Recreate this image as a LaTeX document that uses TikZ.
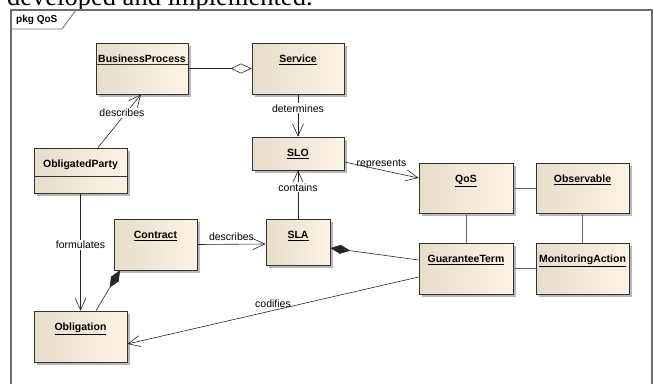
\documentclass[tikz,border=0pt]{standalone}
\usepackage{fontspec}
\setmainfont{Liberation Serif}
\newfontfamily\umlfont{Liberation Sans}
\usetikzlibrary{arrows.meta,shadows}

\definecolor{boxleft}{RGB}{231,221,203}
\definecolor{boxright}{RGB}{252,243,229}
\definecolor{frameline}{RGB}{110,110,110}

\tikzset{
  umlbox/.style={draw=black!80, line width=0.8pt, left color=boxleft, right color=boxright,
    drop shadow={shadow xshift=3pt, shadow yshift=-3pt, fill=black!28, opacity=1},
    minimum width=93pt, minimum height=51pt, inner sep=0pt},
  boxtitle/.style={font=\umlfont\fontsize{10.5}{12}\selectfont\bfseries, inner sep=0pt, anchor=base},
  lbl/.style={font=\umlfont\fontsize{10.5}{12}\selectfont, fill=white, inner sep=1pt},
  assoc/.style={draw=black!85, line width=0.6pt},
  link/.style={draw=black!60, line width=0.6pt},
  nav/.style={assoc, -{Straight Barb[length=12pt,width=11pt]}},
  comp/.style={assoc, {Diamond[length=20pt,width=9pt]}-},
  aggr/.style={assoc, -{Diamond[open,length=21pt,width=10pt]}},
}

\begin{document}
\begin{tikzpicture}[x=1pt, y=-1pt]
  \useasboundingbox (0,0) rectangle (653,383);
  \clip (0,0) rectangle (653,383);

  % line of text cut off above the frame
  \node[anchor=base west, inner sep=0pt, font=\fontsize{26.5}{30}\selectfont] (cap) at (7,5) {developed and implemented.};

  % package frame
  \draw[frameline, line width=1.2pt] (11,420) |- (652,10) -- (652,420);
  \draw[frameline, line width=0.8pt] (11,29) -- (62,29) -- (76,10);
  \node[boxtitle, anchor=west, font=\umlfont\fontsize{10}{12}\selectfont\bfseries] (pkg) at (16,20) {pkg QoS};

  % classes
  \node[umlbox, minimum width=92pt] (bp) at (142,68.5) {};
  \node[boxtitle] (bpt) at ([yshift=-20pt]bp.north) {BusinessProcess};
  \draw[black!80, line width=0.8pt] ([yshift=-22pt]bp.north west) -- ([yshift=-22pt]bp.north east);

  \node[umlbox, minimum width=92pt] (srv) at (298,68.5) {};
  \node[boxtitle] (srvt) at ([yshift=-20pt]srv.north) {\underline{Service}};

  \node[umlbox, minimum width=92pt, minimum height=33pt] (slo) at (298,153.5) {};
  \node[boxtitle] (slot) at ([yshift=-20pt]slo.north) {\underline{SLO}};

  \node[umlbox, minimum height=45pt] (op) at (80.5,170.5) {};
  \node[boxtitle] (opt) at ([yshift=-20pt]op.north) {ObligatedParty};
  \draw[black!80, line width=0.8pt] ([yshift=-29pt]op.north west) -- ([yshift=-29pt]op.north east);

  \node[umlbox, minimum width=83pt] (con) at (155.5,244.5) {};
  \node[boxtitle] (cont) at ([yshift=-20pt]con.north) {\underline{Contract}};

  \node[umlbox, minimum width=64pt, minimum height=46pt] (sla) at (298,242) {};
  \node[boxtitle] (slat) at ([yshift=-20pt]sla.north) {\underline{SLA}};

  \node[umlbox] (obl) at (80.5,336.5) {};
  \node[boxtitle] (oblt) at ([yshift=-20pt]obl.north) {\underline{Obligation}};

  \node[umlbox, minimum width=94pt, minimum height=50pt] (qos) at (466,188) {};
  \node[boxtitle] (qost) at ([yshift=-20pt]qos.north) {\underline{QoS}};

  \node[umlbox, minimum height=50pt] (obs) at (582.5,188) {};
  \node[boxtitle] (obst) at ([yshift=-20pt]obs.north) {\underline{Observable}};

  \node[umlbox, minimum width=94pt] (gt) at (466,268.5) {};
  \node[boxtitle] (gtt) at ([yshift=-20pt]gt.north) {\underline{GuaranteeTerm}};

  \node[umlbox] (ma) at (582.5,268.5) {};
  \node[boxtitle] (mat) at ([yshift=-20pt]ma.north) {\underline{MonitoringAction}};

  % relations
  \draw[aggr] (bp) -- (srv);
  \draw[nav] ([xshift=17.5pt]op.north) -- ([xshift=-1pt]bp.south)
    node[lbl, pos=0.65, xshift=-4pt] (l1) {describes};
  \draw[nav] (srv) -- (slo) node[lbl, pos=0.33] (l2) {determines};
  \draw[nav] (sla) -- (slo) node[lbl, pos=0.65] (l3) {contains};
  \draw[nav] ([yshift=-8.5pt]slo.east) -- ([yshift=10pt]qos.west)
    node[lbl, fill=none, pos=0.5, above=0pt] (l4) {represents};
  \draw[nav] (con.east) -- ([yshift=-2pt]sla.west)
    node[lbl, fill=none, pos=0.5, above=2pt] (l5) {describes};
  \draw[nav] (op) -- (obl) node[lbl, pos=0.44] (l6) {formulates};
  \draw[comp] ([xshift=-35.5pt]con.south) -- ([xshift=15.5pt]obl.north);
  \draw[comp] ([yshift=-6pt]sla.east) -- ([yshift=8.5pt]gt.west);
  \draw[nav] ([yshift=-8.5pt]gt.west) -- ([yshift=-7.5pt]obl.east)
    node[lbl, fill=none, pos=0.5, above=2pt] (l7) {codifies};
  \draw[link] (qos) -- (obs);
  \draw[link] (qos) -- (gt);
  \draw[link] (obs) -- (ma);
  \draw[link] (gt) -- (ma);
\end{tikzpicture}
\end{document}
